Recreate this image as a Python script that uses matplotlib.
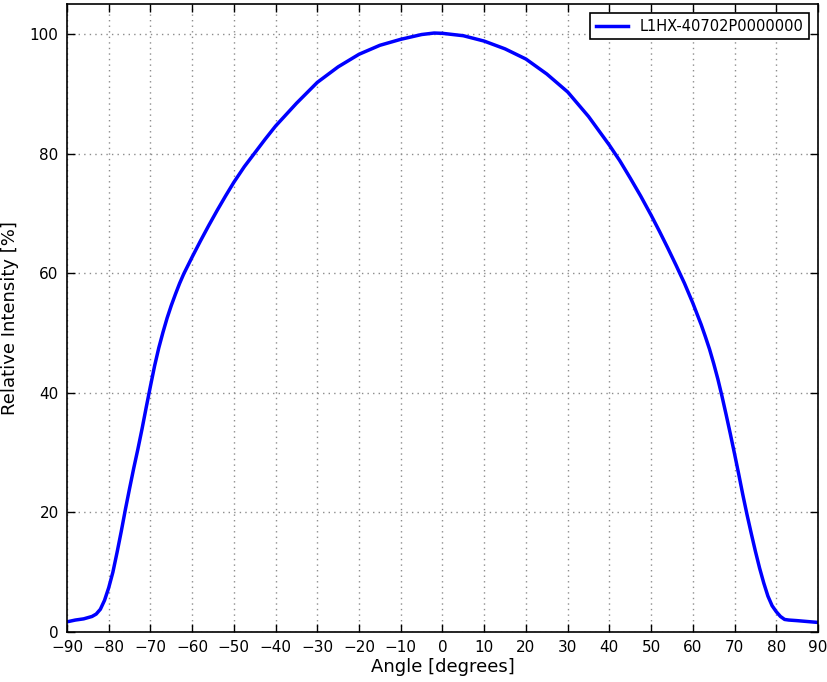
import matplotlib
matplotlib.use("Agg")
import matplotlib.pyplot as plt

angles = [-90, -88, -86, -84, -83, -82, -81, -80, -79, -78, -77, -76, -75, -74, -73, -72,
          -71, -70, -69, -68, -67, -66, -65, -64, -63, -62, -61, -60, -58, -56, -54, -52,
          -50, -47.5, -45, -42.5, -40, -35, -30, -25, -20, -15, -10, -5, -2, 0, 5, 10, 15,
          20, 25, 30, 35, 40, 42.5, 45, 47.5, 50, 52, 54, 56, 58, 60, 62, 63, 64, 65, 66, 67, 68,
          69, 70, 71, 72, 73, 74, 75, 76, 77, 78, 79, 80, 81, 82, 83, 85, 90]
intensity = [1.7, 2.0, 2.2, 2.6, 3.0, 3.8, 5.3, 7.4, 10.0, 13.3, 16.8, 20.5, 24.0, 27.4, 30.6, 34.0,
             37.6, 41.1, 44.5, 47.5, 50.1, 52.5, 54.6, 56.5, 58.3, 59.9, 61.3, 62.7, 65.4, 68.0, 70.5, 72.9,
             75.2, 77.8, 80.1, 82.4, 84.6, 88.4, 91.9, 94.5, 96.6, 98.1, 99.1, 99.9, 100.15, 100.1, 99.7, 98.8, 97.5,
             95.8, 93.3, 90.3, 86.2, 81.4, 78.8, 75.9, 72.9, 69.7, 67.0, 64.2, 61.3, 58.3, 55.0, 51.4, 49.4, 47.3, 44.9, 42.3, 39.4, 36.3,
             33.1, 29.8, 26.4, 22.9, 19.6, 16.5, 13.5, 10.7, 8.2, 6.0, 4.4, 3.4, 2.6, 2.1, 2.0, 1.9, 1.6]
series_label = "L1HX-40702P0000000"
xticks = list(range(-90, 91, 10))
yticks = list(range(0, 101, 20))

fig = plt.figure(figsize=(8.28, 6.82), dpi=100)
ax = fig.add_axes([0.0809, 0.0733, 0.907, 0.9208])
ax.plot(angles, intensity, color=(0, 0, 1), linewidth=2.5, label=series_label)
ax.set_xlim(-90, 90)
ax.set_ylim(0, 105)
ax.set_xticks(xticks)
ax.set_yticks(yticks)
ax.tick_params(direction="in", length=6, width=1, labelsize=11, top=True, right=True, pad=6)
ax.grid(True, linestyle=(0, (1, 3)), color="0.55", linewidth=1)
for s in ax.spines.values():
    s.set_linewidth(1.2)
ax.set_xlabel("Angle [degrees]", fontsize=13, labelpad=2)
ax.set_ylabel("Relative Intensity [%]", fontsize=13, labelpad=8)
leg = ax.legend(loc="upper right", fontsize=10.5, fancybox=False, framealpha=1,
                borderaxespad=0.6, handlelength=2.2)
leg.get_frame().set_edgecolor("black")
leg.get_frame().set_linewidth(1.2)
fig.savefig("out.png", dpi=100, facecolor="white")
